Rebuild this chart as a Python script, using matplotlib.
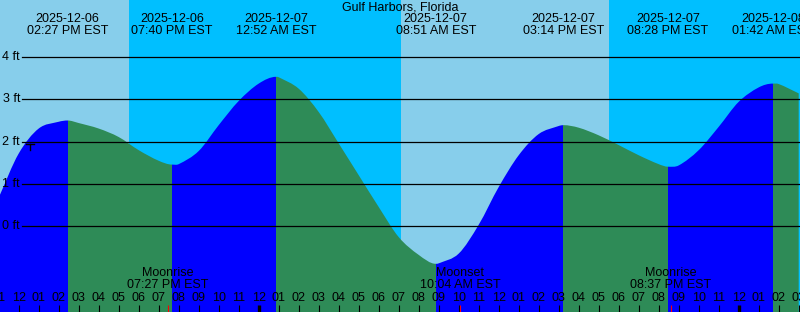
import datetime as dt
import numpy as np
import matplotlib
matplotlib.use('Agg')
import matplotlib.pyplot as plt
import matplotlib.transforms as mtransforms
from matplotlib.path import Path
from matplotlib.patches import PathPatch, Rectangle

plt.rcParams['font.family'] = ['Liberation Sans', 'DejaVu Sans']

station = 'Gulf Harbors, Florida'
base = dt.datetime(2025, 12, 6, 14, 0)   # reference time, x in hours from here

# heights read at every hour tick, starting 2025-12-06 11:00
hourly_start = dt.datetime(2025, 12, 6, 11, 0)
hourly_ft = [0.68, 1.72, 2.31, 2.47, 2.44, 2.31, 2.11, 1.80, 1.55, 1.47,
             1.78, 2.39, 2.96, 3.37, 3.52, 3.25, 2.70, 1.96, 1.21, 0.46,
             -0.25, -0.67, -0.87, -0.64, 0.04, 0.93, 1.68, 2.18, 2.37, 2.33,
             2.15, 1.92, 1.68, 1.47, 1.44, 1.80, 2.35, 2.94, 3.28, 3.36, 3.14]

# high / low tides
tide_times = ['2025-12-06 14:27', '2025-12-06 19:40', '2025-12-07 00:52',
              '2025-12-07 08:51', '2025-12-07 15:14', '2025-12-07 20:28',
              '2025-12-08 01:42']
tide_ft = [2.50, 1.46, 3.53, -0.88, 2.39, 1.41, 3.37]

# sunset / sunrise (day = light band)
sun_times = ['2025-12-06 17:31', '2025-12-07 07:07', '2025-12-07 17:30']

moon_events = ['Moonrise', 'Moonset', 'Moonrise']
moon_times = ['2025-12-06 19:27', '2025-12-07 10:04', '2025-12-07 20:37']

grid_ft = [0, 1, 2, 3, 4]

day_col = '#87CEEB'
night_col = '#00BFFF'
rise_col = '#0000FF'
fall_col = '#2E8B57'


def hrs(s):
    if isinstance(s, str):
        s = dt.datetime.strptime(s, '%Y-%m-%d %H:%M')
    return (s - base).total_seconds() / 3600.0


def fmt12(d):
    return d.strftime('%I:%M %p') + ' EST'


xmin, xmax = -2.935, 37.065
ymin, ymax = -2.017, 5.342

fig = plt.figure(figsize=(8, 3.12), dpi=100)
ax = fig.add_axes([0, 0, 1, 1])
ax.set_xlim(xmin, xmax)
ax.set_ylim(ymin, ymax)
ax.axis('off')

# day / night background
sun_h = [hrs(s) for s in sun_times]
edges = [xmin] + sun_h + [xmax]
for i in range(len(edges) - 1):
    c = day_col if i % 2 == 0 else night_col
    ax.axvspan(edges[i], edges[i + 1], color=c, lw=0, zorder=0)

# tide curve points
t_hour = [hrs(hourly_start) + k for k in range(len(hourly_ft))]
t_ext = [hrs(s) for s in tide_times]
t_all = np.array(t_hour + t_ext)
v_all = np.array(hourly_ft + tide_ft)
is_ext = np.array([False] * len(t_hour) + [True] * len(t_ext))
order = np.argsort(t_all)
t_all, v_all, is_ext = t_all[order], v_all[order], is_ext[order]

# slopes for a smooth bezier path through the points (flat at highs/lows)
n = len(t_all)
slope = np.zeros(n)
for i in range(n):
    if is_ext[i]:
        continue
    a = max(i - 1, 0)
    b = min(i + 1, n - 1)
    slope[i] = (v_all[b] - v_all[a]) / (t_all[b] - t_all[a])

verts = [(t_all[0], ymin), (t_all[0], v_all[0])]
codes = [Path.MOVETO, Path.LINETO]
for i in range(n - 1):
    d = (t_all[i + 1] - t_all[i]) / 3.0
    verts += [(t_all[i] + d, v_all[i] + slope[i] * d),
              (t_all[i + 1] - d, v_all[i + 1] - slope[i + 1] * d),
              (t_all[i + 1], v_all[i + 1])]
    codes += [Path.CURVE4] * 3
verts += [(t_all[-1], ymin), (t_all[0], ymin)]
codes += [Path.LINETO, Path.CLOSEPOLY]
area = Path(verts, codes)

seg = [t_all[0]] + t_ext + [t_all[-1]]
for i in range(len(seg) - 1):
    c = rise_col if i % 2 == 0 else fall_col
    p = PathPatch(area, facecolor=c, edgecolor='none', zorder=1)
    ax.add_patch(p)
    clip = Rectangle((seg[i], ymin), seg[i + 1] - seg[i], ymax - ymin,
                     transform=ax.transData)
    p.set_clip_path(clip)

# level lines
for g in grid_ft:
    ax.axhline(g, xmin=22 / 800, xmax=1, color='black', lw=0.9, zorder=2)
    ax.text(xmin + 20 / 20.0, g, '%d ft' % g, ha='right', va='center',
            fontsize=9, zorder=3)

# small mark near the 2 ft line
ax.plot([-1.64, -1.24], [1.95, 1.95], color='black', lw=1.0, zorder=3)
ax.plot([-1.44, -1.44], [1.95, 1.81], color='black', lw=1.0, zorder=3)

trans = mtransforms.blended_transform_factory(ax.transData, ax.transAxes)

ax.text(0.5, 1 - 7 / 312, station, transform=ax.transAxes, ha='center',
        va='center', fontsize=9, zorder=4)

for s in tide_times:
    d = dt.datetime.strptime(s, '%Y-%m-%d %H:%M')
    h = hrs(d)
    ax.text(h, 1 - 19 / 312, d.strftime('%Y-%m-%d'), transform=trans,
            ha='center', va='center', fontsize=9, zorder=4)
    ax.text(h, 1 - 31.5 / 312, fmt12(d), transform=trans,
            ha='center', va='center', fontsize=9, zorder=4)

for name, s in zip(moon_events, moon_times):
    d = dt.datetime.strptime(s, '%Y-%m-%d %H:%M')
    h = hrs(d)
    ax.text(h, 1 - 273 / 312, name, transform=trans, ha='center',
            va='center', fontsize=9, zorder=4)
    ax.text(h, 1 - 285 / 312, fmt12(d), transform=trans, ha='center',
            va='center', fontsize=9, zorder=4)
    ax.plot([h, h], [0, 7.5 / 312], transform=trans, color='red', lw=0.8,
            solid_capstyle='butt', zorder=5)

# hour ticks
for k in range(len(hourly_ft)):
    d = hourly_start + dt.timedelta(hours=k)
    h = hrs(d)
    lw = 2.4 if d.hour == 0 else 0.8
    ax.plot([h, h], [0, 7.5 / 312], transform=trans, color='black', lw=lw,
            solid_capstyle='butt', zorder=4)
    ax.text(h, 1 - 298 / 312, d.strftime('%I'), transform=trans,
            ha='center', va='center', fontsize=9, zorder=4)

fig.savefig('out.png', dpi=100)
